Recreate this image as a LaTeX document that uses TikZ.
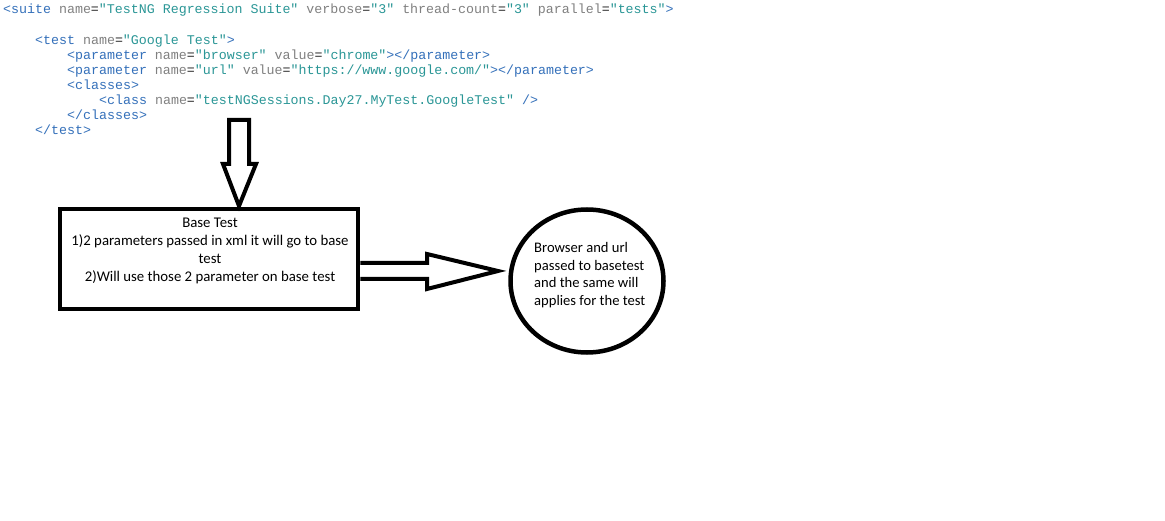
\documentclass[tikz,border=0pt]{standalone}
\usepackage{fontspec}
\setmainfont{Carlito}
\setmonofont{Liberation Mono}
\usetikzlibrary{shapes.geometric}

% syntax colours for the XML listing
\definecolor{xmltag}{RGB}{52,112,186}
\definecolor{xmlattr}{RGB}{128,128,128}
\definecolor{xmlval}{RGB}{42,150,150}
\definecolor{xmleq}{RGB}{40,40,40}
\newcommand{\xtag}[1]{\textcolor{xmltag}{#1}}
\newcommand{\xattr}[1]{\textcolor{xmlattr}{#1}}
\newcommand{\xval}[1]{\textcolor{xmlval}{#1}}
\newcommand{\xeq}{\textcolor{xmleq}{=}}

\tikzset{
  codeline/.style={anchor=base west, inner sep=0pt,
    font=\ttfamily\fontsize{13.3}{15}\selectfont},
  thick outline/.style={draw=black, line width=4.5pt},
  blockarrow/.style={draw=black, line width=4pt, line join=miter, fill=white},
  note/.style={inner sep=0pt, font=\fontsize{14.6}{17.7}\selectfont},
}

\begin{document}
\begin{tikzpicture}[x=1pt, y=-1pt]
  \useasboundingbox (0,0) rectangle (1165,521);
  \fill[white] (0,0) rectangle (1165,521);

  % XML suite file
  \node[codeline] (c1) at (3,14) {\xtag{<suite} \xattr{name}\xeq\xval{"TestNG Regression Suite"} \xattr{verbose}\xeq\xval{"3"} \xattr{thread-count}\xeq\xval{"3"} \xattr{parallel}\xeq\xval{"tests"}\xtag{>}};
  \node[codeline] (c2) at (35,45) {\xtag{<test} \xattr{name}\xeq\xval{"Google Test"}\xtag{>}};
  \node[codeline] (c3) at (67,60) {\xtag{<parameter} \xattr{name}\xeq\xval{"browser"} \xattr{value}\xeq\xval{"chrome"}\xtag{></parameter>}};
  \node[codeline] (c4) at (67,75) {\xtag{<parameter} \xattr{name}\xeq\xval{"url"} \xattr{value}\xeq\xval{"https://www.google.com/"}\xtag{></parameter>}};
  \node[codeline] (c5) at (67,90) {\xtag{<classes>}};
  \node[codeline] (c6) at (99,105) {\xtag{<class} \xattr{name}\xeq\xval{"testNGSessions.Day27.MyTest.GoogleTest"} \xtag{/>}};
  \node[codeline] (c7) at (67,120) {\xtag{</classes>}};
  \node[codeline] (c8) at (35,135) {\xtag{</test>}};

  % base test box
  \node[thick outline, rectangle, minimum width=298pt, minimum height=100pt, inner sep=0pt]
    (base) at (209,259) {};
  \node[note, align=center, font=\fontsize{14.8}{18.2}\selectfont] (basetxt) at (210,251)
    {Base Test\\1)2 parameters passed in xml it will go to base\\test\\2)Will use those 2 parameter on base test};

  % result circle
  \node[thick outline, ellipse, minimum width=153pt, minimum height=143pt, inner sep=0pt]
    (circ) at (587,281) {};
  \node[note, align=left, anchor=west] (circtxt) at (534,275)
    {Browser and url\\passed to basetest\\and the same will\\applies for the test};

  % block arrow from the XML down into the box
  \coordinate (downtip) at (239,206);
  \draw[blockarrow] (229,120) -- (249,120) -- (249,164) -- (256,164) -- (downtip)
    -- (223,164) -- (229,164) -- cycle;

  % block arrow from the box to the circle
  \coordinate (righttip) at (498,271);
  \draw[blockarrow] (base.east |- 0,263) -- (427,263) -- (427,254) -- (righttip)
    -- (427,289) -- (427,279) -- (base.east |- 0,279);
\end{tikzpicture}
\end{document}
